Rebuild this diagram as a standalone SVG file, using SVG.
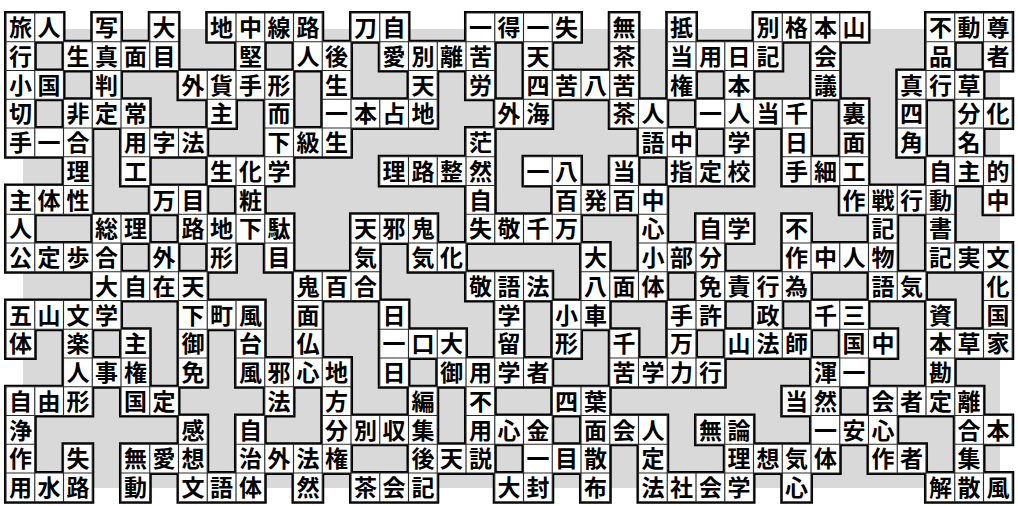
<svg xmlns="http://www.w3.org/2000/svg" width="1018" height="506" viewBox="0 0 1018 506">
<style>
.o{fill:#000;stroke:#000;stroke-width:0.14}
.i{fill:#fff;stroke:#2a2a2a;stroke-width:0.04}
text{font-family:"Liberation Sans","Noto Sans CJK JP",sans-serif;font-weight:700;font-size:23px;text-anchor:middle;fill:#000}
</style>
<defs>
<path id="cells" d="M0 0h1v1h-1zM1 0h1v1h-1zM3 0h1v1h-1zM5 0h1v1h-1zM7 0h1v1h-1zM8 0h1v1h-1zM9 0h1v1h-1zM10 0h1v1h-1zM12 0h1v1h-1zM13 0h1v1h-1zM16 0h1v1h-1zM17 0h1v1h-1zM18 0h1v1h-1zM19 0h1v1h-1zM21 0h1v1h-1zM23 0h1v1h-1zM26 0h1v1h-1zM27 0h1v1h-1zM28 0h1v1h-1zM29 0h1v1h-1zM32 0h1v1h-1zM33 0h1v1h-1zM34 0h1v1h-1z
M0 1h1v1h-1zM2 1h1v1h-1zM3 1h1v1h-1zM4 1h1v1h-1zM5 1h1v1h-1zM8 1h1v1h-1zM10 1h1v1h-1zM11 1h1v1h-1zM13 1h1v1h-1zM14 1h1v1h-1zM15 1h1v1h-1zM16 1h1v1h-1zM18 1h1v1h-1zM21 1h1v1h-1zM23 1h1v1h-1zM24 1h1v1h-1zM25 1h1v1h-1zM26 1h1v1h-1zM28 1h1v1h-1zM32 1h1v1h-1zM34 1h1v1h-1z
M0 2h1v1h-1zM1 2h1v1h-1zM3 2h1v1h-1zM6 2h1v1h-1zM7 2h1v1h-1zM8 2h1v1h-1zM9 2h1v1h-1zM11 2h1v1h-1zM14 2h1v1h-1zM16 2h1v1h-1zM18 2h1v1h-1zM19 2h1v1h-1zM20 2h1v1h-1zM21 2h1v1h-1zM23 2h1v1h-1zM25 2h1v1h-1zM28 2h1v1h-1zM31 2h1v1h-1zM32 2h1v1h-1zM33 2h1v1h-1z
M0 3h1v1h-1zM2 3h1v1h-1zM3 3h1v1h-1zM4 3h1v1h-1zM7 3h1v1h-1zM9 3h1v1h-1zM11 3h1v1h-1zM12 3h1v1h-1zM13 3h1v1h-1zM14 3h1v1h-1zM17 3h1v1h-1zM18 3h1v1h-1zM21 3h1v1h-1zM22 3h1v1h-1zM24 3h1v1h-1zM25 3h1v1h-1zM26 3h1v1h-1zM27 3h1v1h-1zM29 3h1v1h-1zM31 3h1v1h-1zM33 3h1v1h-1zM34 3h1v1h-1z
M0 4h1v1h-1zM1 4h1v1h-1zM2 4h1v1h-1zM4 4h1v1h-1zM5 4h1v1h-1zM6 4h1v1h-1zM9 4h1v1h-1zM10 4h1v1h-1zM11 4h1v1h-1zM16 4h1v1h-1zM22 4h1v1h-1zM23 4h1v1h-1zM25 4h1v1h-1zM27 4h1v1h-1zM29 4h1v1h-1zM31 4h1v1h-1zM33 4h1v1h-1z
M2 5h1v1h-1zM4 5h1v1h-1zM7 5h1v1h-1zM8 5h1v1h-1zM9 5h1v1h-1zM13 5h1v1h-1zM14 5h1v1h-1zM15 5h1v1h-1zM16 5h1v1h-1zM18 5h1v1h-1zM19 5h1v1h-1zM21 5h1v1h-1zM23 5h1v1h-1zM24 5h1v1h-1zM25 5h1v1h-1zM27 5h1v1h-1zM28 5h1v1h-1zM29 5h1v1h-1zM32 5h1v1h-1zM33 5h1v1h-1zM34 5h1v1h-1z
M0 6h1v1h-1zM1 6h1v1h-1zM2 6h1v1h-1zM5 6h1v1h-1zM6 6h1v1h-1zM8 6h1v1h-1zM16 6h1v1h-1zM19 6h1v1h-1zM20 6h1v1h-1zM21 6h1v1h-1zM22 6h1v1h-1zM29 6h1v1h-1zM30 6h1v1h-1zM31 6h1v1h-1zM32 6h1v1h-1zM34 6h1v1h-1z
M0 7h1v1h-1zM3 7h1v1h-1zM4 7h1v1h-1zM6 7h1v1h-1zM7 7h1v1h-1zM8 7h1v1h-1zM9 7h1v1h-1zM12 7h1v1h-1zM13 7h1v1h-1zM14 7h1v1h-1zM16 7h1v1h-1zM17 7h1v1h-1zM18 7h1v1h-1zM19 7h1v1h-1zM22 7h1v1h-1zM24 7h1v1h-1zM25 7h1v1h-1zM27 7h1v1h-1zM30 7h1v1h-1zM32 7h1v1h-1z
M0 8h1v1h-1zM1 8h1v1h-1zM2 8h1v1h-1zM3 8h1v1h-1zM5 8h1v1h-1zM7 8h1v1h-1zM9 8h1v1h-1zM12 8h1v1h-1zM14 8h1v1h-1zM15 8h1v1h-1zM20 8h1v1h-1zM22 8h1v1h-1zM23 8h1v1h-1zM24 8h1v1h-1zM27 8h1v1h-1zM28 8h1v1h-1zM29 8h1v1h-1zM30 8h1v1h-1zM32 8h1v1h-1zM33 8h1v1h-1zM34 8h1v1h-1z
M3 9h1v1h-1zM4 9h1v1h-1zM5 9h1v1h-1zM6 9h1v1h-1zM10 9h1v1h-1zM11 9h1v1h-1zM12 9h1v1h-1zM16 9h1v1h-1zM17 9h1v1h-1zM18 9h1v1h-1zM20 9h1v1h-1zM21 9h1v1h-1zM22 9h1v1h-1zM24 9h1v1h-1zM25 9h1v1h-1zM26 9h1v1h-1zM27 9h1v1h-1zM30 9h1v1h-1zM31 9h1v1h-1zM34 9h1v1h-1z
M0 10h1v1h-1zM1 10h1v1h-1zM2 10h1v1h-1zM3 10h1v1h-1zM6 10h1v1h-1zM7 10h1v1h-1zM8 10h1v1h-1zM10 10h1v1h-1zM13 10h1v1h-1zM17 10h1v1h-1zM19 10h1v1h-1zM20 10h1v1h-1zM23 10h1v1h-1zM24 10h1v1h-1zM26 10h1v1h-1zM28 10h1v1h-1zM29 10h1v1h-1zM32 10h1v1h-1zM34 10h1v1h-1z
M0 11h1v1h-1zM2 11h1v1h-1zM4 11h1v1h-1zM6 11h1v1h-1zM8 11h1v1h-1zM10 11h1v1h-1zM13 11h1v1h-1zM14 11h1v1h-1zM15 11h1v1h-1zM17 11h1v1h-1zM19 11h1v1h-1zM21 11h1v1h-1zM23 11h1v1h-1zM25 11h1v1h-1zM26 11h1v1h-1zM27 11h1v1h-1zM29 11h1v1h-1zM30 11h1v1h-1zM32 11h1v1h-1zM33 11h1v1h-1zM34 11h1v1h-1z
M2 12h1v1h-1zM3 12h1v1h-1zM4 12h1v1h-1zM6 12h1v1h-1zM8 12h1v1h-1zM9 12h1v1h-1zM10 12h1v1h-1zM11 12h1v1h-1zM13 12h1v1h-1zM15 12h1v1h-1zM16 12h1v1h-1zM17 12h1v1h-1zM18 12h1v1h-1zM21 12h1v1h-1zM22 12h1v1h-1zM23 12h1v1h-1zM24 12h1v1h-1zM28 12h1v1h-1zM29 12h1v1h-1zM32 12h1v1h-1z
M0 13h1v1h-1zM1 13h1v1h-1zM2 13h1v1h-1zM4 13h1v1h-1zM5 13h1v1h-1zM9 13h1v1h-1zM11 13h1v1h-1zM14 13h1v1h-1zM16 13h1v1h-1zM19 13h1v1h-1zM20 13h1v1h-1zM27 13h1v1h-1zM28 13h1v1h-1zM30 13h1v1h-1zM31 13h1v1h-1zM32 13h1v1h-1zM33 13h1v1h-1z
M0 14h1v1h-1zM6 14h1v1h-1zM8 14h1v1h-1zM11 14h1v1h-1zM12 14h1v1h-1zM13 14h1v1h-1zM14 14h1v1h-1zM16 14h1v1h-1zM17 14h1v1h-1zM18 14h1v1h-1zM20 14h1v1h-1zM21 14h1v1h-1zM22 14h1v1h-1zM24 14h1v1h-1zM25 14h1v1h-1zM28 14h1v1h-1zM29 14h1v1h-1zM30 14h1v1h-1zM33 14h1v1h-1zM34 14h1v1h-1z
M0 15h1v1h-1zM2 15h1v1h-1zM4 15h1v1h-1zM5 15h1v1h-1zM6 15h1v1h-1zM8 15h1v1h-1zM9 15h1v1h-1zM10 15h1v1h-1zM11 15h1v1h-1zM14 15h1v1h-1zM15 15h1v1h-1zM16 15h1v1h-1zM18 15h1v1h-1zM19 15h1v1h-1zM20 15h1v1h-1zM22 15h1v1h-1zM25 15h1v1h-1zM26 15h1v1h-1zM27 15h1v1h-1zM28 15h1v1h-1zM30 15h1v1h-1zM31 15h1v1h-1zM33 15h1v1h-1z
M0 16h1v1h-1zM1 16h1v1h-1zM2 16h1v1h-1zM4 16h1v1h-1zM6 16h1v1h-1zM7 16h1v1h-1zM8 16h1v1h-1zM10 16h1v1h-1zM12 16h1v1h-1zM13 16h1v1h-1zM14 16h1v1h-1zM17 16h1v1h-1zM18 16h1v1h-1zM20 16h1v1h-1zM22 16h1v1h-1zM23 16h1v1h-1zM24 16h1v1h-1zM25 16h1v1h-1zM27 16h1v1h-1zM32 16h1v1h-1zM33 16h1v1h-1zM34 16h1v1h-1z"/>
</defs>
<rect width="1018" height="506" fill="#fff"/>
<rect x="23" y="29" width="977" height="459" fill="#d9d9d9"/>
<g id="grid" transform="translate(6 13) scale(28.75)">
<use href="#cells" class="o"/>
<use href="#cells" class="i"/>
</g>
<g id="letters">
<g id="r0" transform="translate(0 36.1)"><text x="20.4">旅</text><text x="49.1">人</text><text x="106.6">写</text><text x="164.1">大</text><text x="221.6">地</text><text x="250.4">中</text><text x="279.1">線</text><text x="307.9">路</text><text x="365.4">刀</text><text x="394.1">自</text><text x="480.4">一</text><text x="509.1">得</text><text x="537.9">一</text><text x="566.6">失</text><text x="624.1">無</text><text x="681.6">抵</text><text x="767.9">別</text><text x="796.6">格</text><text x="825.4">本</text><text x="854.1">山</text><text x="940.4">不</text><text x="969.1">動</text><text x="997.9">尊</text></g>
<g id="r1" transform="translate(0 64.85)"><text x="20.4">行</text><text x="77.9">生</text><text x="106.6">真</text><text x="135.4">面</text><text x="164.1">目</text><text x="250.4">堅</text><text x="307.9">人</text><text x="336.6">後</text><text x="394.1">愛</text><text x="422.9">別</text><text x="451.6">離</text><text x="480.4">苦</text><text x="537.9">天</text><text x="624.1">茶</text><text x="681.6">当</text><text x="710.4">用</text><text x="739.1">日</text><text x="767.9">記</text><text x="825.4">会</text><text x="940.4">品</text><text x="997.9">者</text></g>
<g id="r2" transform="translate(0 93.6)"><text x="20.4">小</text><text x="49.1">国</text><text x="106.6">判</text><text x="192.9">外</text><text x="221.6">貨</text><text x="250.4">手</text><text x="279.1">形</text><text x="336.6">生</text><text x="422.9">天</text><text x="480.4">労</text><text x="537.9">四</text><text x="566.6">苦</text><text x="595.4">八</text><text x="624.1">苦</text><text x="681.6">権</text><text x="739.1">本</text><text x="825.4">議</text><text x="911.6">真</text><text x="940.4">行</text><text x="969.1">草</text></g>
<g id="r3" transform="translate(0 122.35)"><text x="20.4">切</text><text x="77.9">非</text><text x="106.6">定</text><text x="135.4">常</text><text x="221.6">主</text><text x="279.1">而</text><text x="336.6">一</text><text x="365.4">本</text><text x="394.1">占</text><text x="422.9">地</text><text x="509.1">外</text><text x="537.9">海</text><text x="624.1">茶</text><text x="652.9">人</text><text x="710.4">一</text><text x="739.1">人</text><text x="767.9">当</text><text x="796.6">千</text><text x="854.1">裏</text><text x="911.6">四</text><text x="969.1">分</text><text x="997.9">化</text></g>
<g id="r4" transform="translate(0 151.1)"><text x="20.4">手</text><text x="49.1">一</text><text x="77.9">合</text><text x="135.4">用</text><text x="164.1">字</text><text x="192.9">法</text><text x="279.1">下</text><text x="307.9">級</text><text x="336.6">生</text><text x="480.4">茫</text><text x="652.9">語</text><text x="681.6">中</text><text x="739.1">学</text><text x="796.6">日</text><text x="854.1">面</text><text x="911.6">角</text><text x="969.1">名</text></g>
<g id="r5" transform="translate(0 179.85)"><text x="77.9">理</text><text x="135.4">工</text><text x="221.6">生</text><text x="250.4">化</text><text x="279.1">学</text><text x="394.1">理</text><text x="422.9">路</text><text x="451.6">整</text><text x="480.4">然</text><text x="537.9">一</text><text x="566.6">八</text><text x="624.1">当</text><text x="681.6">指</text><text x="710.4">定</text><text x="739.1">校</text><text x="796.6">手</text><text x="825.4">細</text><text x="854.1">工</text><text x="940.4">自</text><text x="969.1">主</text><text x="997.9">的</text></g>
<g id="r6" transform="translate(0 208.6)"><text x="20.4">主</text><text x="49.1">体</text><text x="77.9">性</text><text x="164.1">万</text><text x="192.9">目</text><text x="250.4">粧</text><text x="480.4">自</text><text x="566.6">百</text><text x="595.4">発</text><text x="624.1">百</text><text x="652.9">中</text><text x="854.1">作</text><text x="882.9">戦</text><text x="911.6">行</text><text x="940.4">動</text><text x="997.9">中</text></g>
<g id="r7" transform="translate(0 237.35)"><text x="20.4">人</text><text x="106.6">総</text><text x="135.4">理</text><text x="192.9">路</text><text x="221.6">地</text><text x="250.4">下</text><text x="279.1">駄</text><text x="365.4">天</text><text x="394.1">邪</text><text x="422.9">鬼</text><text x="480.4">失</text><text x="509.1">敬</text><text x="537.9">千</text><text x="566.6">万</text><text x="652.9">心</text><text x="710.4">自</text><text x="739.1">学</text><text x="796.6">不</text><text x="882.9">記</text><text x="940.4">書</text></g>
<g id="r8" transform="translate(0 266.1)"><text x="20.4">公</text><text x="49.1">定</text><text x="77.9">歩</text><text x="106.6">合</text><text x="164.1">外</text><text x="221.6">形</text><text x="279.1">目</text><text x="365.4">気</text><text x="422.9">気</text><text x="451.6">化</text><text x="595.4">大</text><text x="652.9">小</text><text x="681.6">部</text><text x="710.4">分</text><text x="796.6">作</text><text x="825.4">中</text><text x="854.1">人</text><text x="882.9">物</text><text x="940.4">記</text><text x="969.1">実</text><text x="997.9">文</text></g>
<g id="r9" transform="translate(0 294.85)"><text x="106.6">大</text><text x="135.4">自</text><text x="164.1">在</text><text x="192.9">天</text><text x="307.9">鬼</text><text x="336.6">百</text><text x="365.4">合</text><text x="480.4">敬</text><text x="509.1">語</text><text x="537.9">法</text><text x="595.4">八</text><text x="624.1">面</text><text x="652.9">体</text><text x="710.4">免</text><text x="739.1">責</text><text x="767.9">行</text><text x="796.6">為</text><text x="882.9">語</text><text x="911.6">気</text><text x="997.9">化</text></g>
<g id="r10" transform="translate(0 323.6)"><text x="20.4">五</text><text x="49.1">山</text><text x="77.9">文</text><text x="106.6">学</text><text x="192.9">下</text><text x="221.6">町</text><text x="250.4">風</text><text x="307.9">面</text><text x="394.1">日</text><text x="509.1">学</text><text x="566.6">小</text><text x="595.4">車</text><text x="681.6">手</text><text x="710.4">許</text><text x="767.9">政</text><text x="825.4">千</text><text x="854.1">三</text><text x="940.4">資</text><text x="997.9">国</text></g>
<g id="r11" transform="translate(0 352.35)"><text x="20.4">体</text><text x="77.9">楽</text><text x="135.4">主</text><text x="192.9">御</text><text x="250.4">台</text><text x="307.9">仏</text><text x="394.1">一</text><text x="422.9">口</text><text x="451.6">大</text><text x="509.1">留</text><text x="566.6">形</text><text x="624.1">千</text><text x="681.6">万</text><text x="739.1">山</text><text x="767.9">法</text><text x="796.6">師</text><text x="854.1">国</text><text x="882.9">中</text><text x="940.4">本</text><text x="969.1">草</text><text x="997.9">家</text></g>
<g id="r12" transform="translate(0 381.1)"><text x="77.9">人</text><text x="106.6">事</text><text x="135.4">権</text><text x="192.9">免</text><text x="250.4">風</text><text x="279.1">邪</text><text x="307.9">心</text><text x="336.6">地</text><text x="394.1">日</text><text x="451.6">御</text><text x="480.4">用</text><text x="509.1">学</text><text x="537.9">者</text><text x="624.1">苦</text><text x="652.9">学</text><text x="681.6">力</text><text x="710.4">行</text><text x="825.4">渾</text><text x="854.1">一</text><text x="940.4">勘</text></g>
<g id="r13" transform="translate(0 409.85)"><text x="20.4">自</text><text x="49.1">由</text><text x="77.9">形</text><text x="135.4">国</text><text x="164.1">定</text><text x="279.1">法</text><text x="336.6">方</text><text x="422.9">編</text><text x="480.4">不</text><text x="566.6">四</text><text x="595.4">葉</text><text x="796.6">当</text><text x="825.4">然</text><text x="882.9">会</text><text x="911.6">者</text><text x="940.4">定</text><text x="969.1">離</text></g>
<g id="r14" transform="translate(0 438.6)"><text x="20.4">浄</text><text x="192.9">感</text><text x="250.4">自</text><text x="336.6">分</text><text x="365.4">別</text><text x="394.1">収</text><text x="422.9">集</text><text x="480.4">用</text><text x="509.1">心</text><text x="537.9">金</text><text x="595.4">面</text><text x="624.1">会</text><text x="652.9">人</text><text x="710.4">無</text><text x="739.1">論</text><text x="825.4">一</text><text x="854.1">安</text><text x="882.9">心</text><text x="969.1">合</text><text x="997.9">本</text></g>
<g id="r15" transform="translate(0 467.35)"><text x="20.4">作</text><text x="77.9">失</text><text x="135.4">無</text><text x="164.1">愛</text><text x="192.9">想</text><text x="250.4">治</text><text x="279.1">外</text><text x="307.9">法</text><text x="336.6">権</text><text x="422.9">後</text><text x="451.6">天</text><text x="480.4">説</text><text x="537.9">一</text><text x="566.6">目</text><text x="595.4">散</text><text x="652.9">定</text><text x="739.1">理</text><text x="767.9">想</text><text x="796.6">気</text><text x="825.4">体</text><text x="882.9">作</text><text x="911.6">者</text><text x="969.1">集</text></g>
<g id="r16" transform="translate(0 496.1)"><text x="20.4">用</text><text x="49.1">水</text><text x="77.9">路</text><text x="135.4">動</text><text x="192.9">文</text><text x="221.6">語</text><text x="250.4">体</text><text x="307.9">然</text><text x="365.4">茶</text><text x="394.1">会</text><text x="422.9">記</text><text x="509.1">大</text><text x="537.9">封</text><text x="595.4">布</text><text x="652.9">法</text><text x="681.6">社</text><text x="710.4">会</text><text x="739.1">学</text><text x="796.6">心</text><text x="940.4">解</text><text x="969.1">散</text><text x="997.9">風</text></g>
</g>
</svg>
